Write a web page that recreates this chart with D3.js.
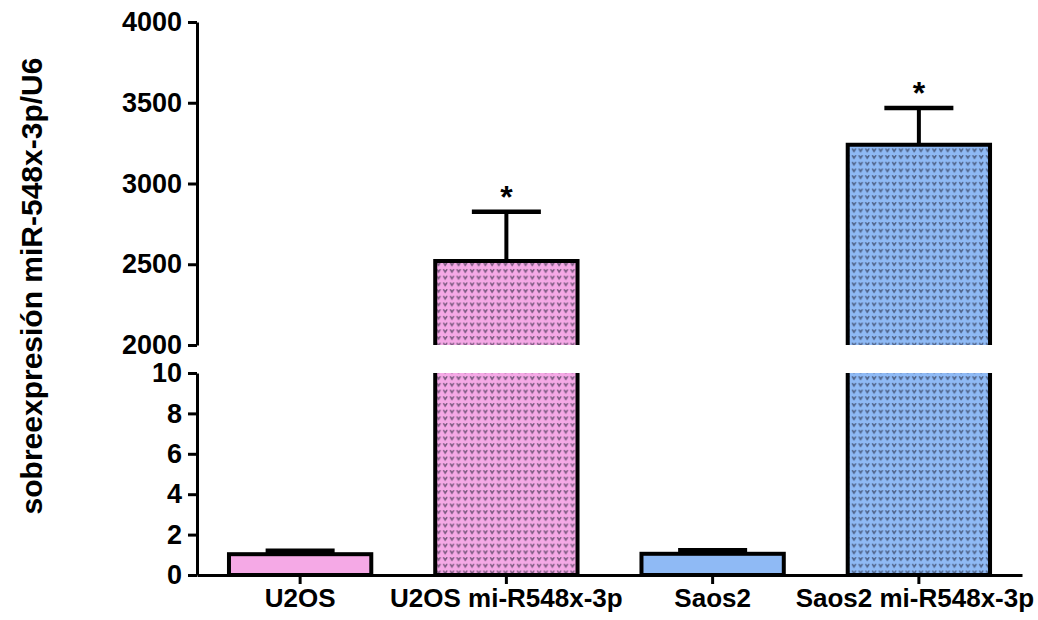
<!DOCTYPE html>
<html>
<head>
<meta charset="utf-8">
<script src="https://cdn.jsdelivr.net/npm/d3@7"></script>
<style>
  body { margin: 0; background: #fff; }
  svg { display: block; font-family: "Liberation Sans", Arial, sans-serif; }
</style>
</head>
<body>
<svg id="chart" width="1038" height="620"></svg>
<script>
// data
const categories = ["U2OS", "U2OS mi-R548x-3p", "Saos2", "Saos2 mi-R548x-3p"];
const means = [1.03, 2520, 1.05, 3240];
const errTops = [1.2, 2825, 1.22, 3467];
const significant = [false, true, false, true];
const lowTicks = [0, 2, 4, 6, 8, 10];
const highTicks = [2000, 2500, 3000, 3500, 4000];
const fills = ["#f5a9e6", "#f5a9e6", "#8fbaf5", "#8fbaf5"];
const patterned = [false, true, false, true];

const svg = d3.select("#chart");

const x = d3.scaleBand()
  .domain(categories)
  .range([197, 1022])
  .paddingInner(0.31)
  .paddingOuter(0.155);

const yLow = d3.scaleLinear().domain([0, 10]).range([575, 373]);
const yHigh = d3.scaleLinear().domain([2000, 4000]).range([345, 22]);

// patterns for the big bars
const defs = svg.append("defs");
function makePattern(id, bg) {
  const p = defs.append("pattern")
    .attr("id", id)
    .attr("patternUnits", "userSpaceOnUse")
    .attr("width", 6.7)
    .attr("height", 6.7);
  p.append("rect").attr("width", 6.7).attr("height", 6.7).attr("fill", bg);
  // small "v" / heart shaped mark
  const mark = [[0,0,1.5,1],[3,0,1.5,1],[0.5,1,3.5,1],[1.2,2,2,1],[1.7,3,1,0.8]];
  mark.forEach(m => p.append("rect")
    .attr("x", m[0] + 0.8).attr("y", m[1] + 1.2)
    .attr("width", m[2]).attr("height", m[3])
    .attr("fill", "#1a1a2e").attr("fill-opacity", 0.66));
}
makePattern("pat0", fills[1]);
makePattern("pat1", fills[3]);

const fillFor = i => patterned[i] ? `url(#pat${i === 1 ? 0 : 1})` : fills[i];

const barStroke = 4;
const bars = svg.append("g");

categories.forEach((c, i) => {
  const x0 = x(c), w = x.bandwidth(), v = means[i];
  const g = bars.append("g");
  if (v <= 10) {
    g.append("rect")
      .attr("x", x0).attr("y", yLow(v))
      .attr("width", w).attr("height", yLow(0) - yLow(v))
      .attr("fill", fillFor(i))
      .attr("stroke", "#000").attr("stroke-width", barStroke);
  } else {
    // lower piece
    g.append("rect")
      .attr("x", x0).attr("y", yLow(10))
      .attr("width", w).attr("height", yLow(0) - yLow(10))
      .attr("fill", fillFor(i));
    g.append("path")
      .attr("d", `M${x0},${yLow(10)}V${yLow(0)}H${x0 + w}V${yLow(10)}`)
      .attr("fill", "none").attr("stroke", "#000").attr("stroke-width", barStroke);
    // upper piece
    g.append("rect")
      .attr("x", x0).attr("y", yHigh(v))
      .attr("width", w).attr("height", yHigh(2000) - yHigh(v))
      .attr("fill", fillFor(i));
    g.append("path")
      .attr("d", `M${x0},${yHigh(2000)}V${yHigh(v)}H${x0 + w}V${yHigh(2000)}`)
      .attr("fill", "none").attr("stroke", "#000").attr("stroke-width", barStroke);
  }

  // error bar
  const ys = v <= 10 ? yLow : yHigh;
  const cx = x0 + w / 2;
  const capW = w * 0.485;
  g.append("line")
    .attr("x1", cx).attr("x2", cx)
    .attr("y1", ys(v)).attr("y2", ys(errTops[i]))
    .attr("stroke", "#000").attr("stroke-width", 4);
  g.append("line")
    .attr("x1", cx - capW / 2).attr("x2", cx + capW / 2)
    .attr("y1", ys(errTops[i])).attr("y2", ys(errTops[i]))
    .attr("stroke", "#000").attr("stroke-width", 4.5);

  if (significant[i]) {
    svg.append("text")
      .attr("x", cx).attr("y", ys(errTops[i]) - 4)
      .attr("text-anchor", "middle")
      .style("font-size", "32px")
      .style("font-weight", "bold")
      .text("*");
  }
});

// axes
function styleAxis(g) {
  g.selectAll(".domain").attr("stroke-width", 3);
  g.selectAll(".tick line").attr("stroke-width", 3);
  g.selectAll(".tick text")
    .style("font-size", "27px")
    .style("font-weight", "bold")
    .attr("fill", "#000")
    .attr("x", -15);
}

svg.append("g")
  .attr("transform", "translate(197,0)")
  .call(d3.axisLeft(yHigh).tickValues(highTicks).tickSize(9).tickSizeOuter(0).tickFormat(d3.format("d")))
  .call(styleAxis);

svg.append("g")
  .attr("transform", "translate(197,0)")
  .call(d3.axisLeft(yLow).tickValues(lowTicks).tickSize(9).tickSizeOuter(0).tickFormat(d3.format("d")))
  .call(styleAxis);

const xAxis = svg.append("g")
  .attr("transform", `translate(0,${yLow(0)})`)
  .call(d3.axisBottom(x).tickSize(9).tickSizeOuter(0));
xAxis.select(".domain").attr("stroke-width", 3);
xAxis.selectAll(".tick line").attr("stroke-width", 3);
xAxis.selectAll(".tick text")
  .style("font-size", "26px")
  .style("font-weight", "bold")
  .attr("fill", "#000")
  .attr("y", 14)
  .attr("dx", (d, i) => i === categories.length - 1 ? -4 : 0);

// y label
svg.append("text")
  .attr("transform", "translate(42,286) rotate(-90)")
  .attr("text-anchor", "middle")
  .style("font-size", "30px")
  .style("font-weight", "bold")
  .text("sobreexpresión miR-548x-3p/U6");
</script>
</body>
</html>
